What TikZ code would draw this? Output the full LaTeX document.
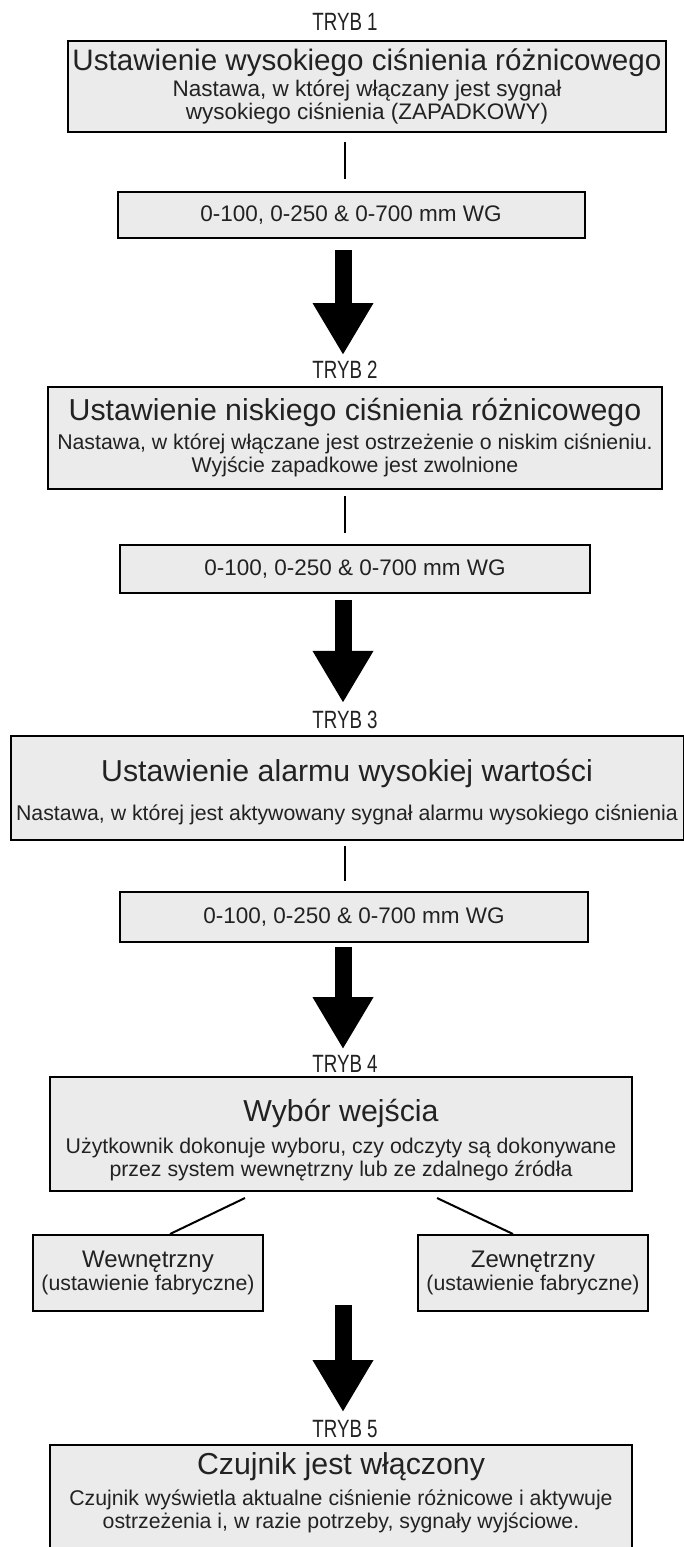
\documentclass[tikz,border=0pt]{standalone}
\usepackage{fontspec}
\setmainfont{Liberation Sans}
\newfontfamily\condfont[FakeStretch=0.75]{Liberation Sans}
\usetikzlibrary{arrows.meta,calc}
\definecolor{boxgray}{HTML}{EBEBEB}
\definecolor{ink}{HTML}{222222}
\newcommand\titlef{\fontsize{30.3}{34}\selectfont}
\newcommand\bodyf{\fontsize{21.3}{23}\selectfont}
\begin{document}
\begin{tikzpicture}[x=1pt,y=-1pt,
  bigbox/.style={draw=black,line width=2pt,fill=boxgray,align=center,inner sep=0pt,text=ink,font=\bodyf},
  rangebox/.style={draw=black,line width=2pt,fill=boxgray,inner sep=0pt,text=ink,
    font=\fontsize{22.5}{23}\selectfont},
  tryb/.style={inner sep=0pt,font=\condfont\fontsize{25}{25}\selectfont,text=ink},
  link/.style={line width=2pt,draw=black},
  bigarrow/.style={line width=17pt,draw=black,-{Triangle[width=57pt,length=52pt]}}]
\useasboundingbox (0,0) rectangle (684,1547);

% TRYB 1
\node[tryb] (t1) at (345,22) {TRYB 1};
\node[bigbox,minimum width=598pt,minimum height=91pt] (b1) at (367,86)
  {{\fontsize{29.6}{34}\selectfont Ustawienie wysokiego ciśnienia różnicowego}\\[3pt]
   {\fontsize{22.5}{23}\selectfont Nastawa, w której włączany jest sygnał}\\
   {\fontsize{22.5}{23}\selectfont wysokiego ciśnienia (ZAPADKOWY)}};
\node[rangebox,minimum width=467pt,minimum height=46pt] (r1) at (351,215) {0-100, 0-250 \& 0-700 mm WG};
\draw[link,shorten <=9pt,shorten >=12pt] (b1.south -| 345,0) -- (r1.north -| 345,0);

% TRYB 2
\node[tryb] (t2) at (345,370) {TRYB 2};
\draw[bigarrow,shorten <=11pt,shorten >=6pt] (r1.south -| 343,0) -- (t2.north -| 343,0);
\node[bigbox,minimum width=614pt,minimum height=102pt] (b2) at (355,438)
  {{\titlef Ustawienie niskiego ciśnienia różnicowego}\\[6pt]
   Nastawa, w której włączane jest ostrzeżenie o niskim ciśnieniu.\\
   Wyjście zapadkowe jest zwolnione};
\node[rangebox,minimum width=470pt,minimum height=48pt] (r2) at (355,569) {0-100, 0-250 \& 0-700 mm WG};
\draw[link,shorten <=6pt,shorten >=11pt] (b2.south -| 345,0) -- (r2.north -| 345,0);

% TRYB 3
\node[tryb] (t3) at (345,720) {TRYB 3};
\draw[bigarrow,shorten <=6pt,shorten >=8pt] (r2.south -| 343,0) -- (t3.north -| 343,0);
\node[bigbox,minimum width=673pt,minimum height=104pt] (b3) at (347,788)
  {{\titlef\rule{0pt}{30pt}Ustawienie alarmu wysokiej wartości}\\[16pt]
   Nastawa, w której jest aktywowany sygnał alarmu wysokiego ciśnienia};
\node[rangebox,minimum width=468pt,minimum height=50pt] (r3) at (354,917) {0-100, 0-250 \& 0-700 mm WG};
\draw[link,shorten <=5pt,shorten >=10pt] (b3.south -| 345,0) -- (r3.north -| 345,0);

% TRYB 4
\node[tryb] (t4) at (345,1064) {TRYB 4};
\draw[bigarrow,shorten <=4pt,shorten >=6pt] (r3.south -| 343,0) -- (t4.north -| 343,0);
\node[bigbox,minimum width=582pt,minimum height=114pt] (b4) at (341,1134)
  {{\titlef\rule{0pt}{34pt}Wybór wejścia}\\[9pt]
   Użytkownik dokonuje wyboru, czy odczyty są dokonywane\\
   przez system wewnętrzny lub ze zdalnego źródła};
\node[bigbox,minimum width=230pt,minimum height=76pt] (w) at (148,1273)
  {{\fontsize{24}{26}\selectfont Wewnętrzny}\\
   (ustawienie fabryczne)};
\node[bigbox,minimum width=230pt,minimum height=76pt] (z) at (533,1273)
  {{\fontsize{24}{26}\selectfont Zewnętrzny}\\
   (ustawienie fabryczne)};
\draw[link] ($(b4.south)+(-96,6)$) -- ($(w.north)+(22,0)$);
\draw[link] ($(b4.south)+(96,6)$) -- ($(z.north)+(-20,0)$);

% TRYB 5
\coordinate (a4) at (343,1305);
\node[tryb] (t5) at (345,1429) {TRYB 5};
\draw[bigarrow,shorten >=8pt] (a4) -- (t5.north -| 343,0);
\node[bigbox,minimum width=582pt,minimum height=118pt,anchor=north] (b5) at (341,1444)
  {{\titlef Czujnik jest włączony}\\[8pt]
   Czujnik wyświetla aktualne ciśnienie różnicowe i aktywuje\\
   ostrzeżenia i, w razie potrzeby, sygnały wyjściowe.\\[4pt]};
\end{tikzpicture}
\end{document}
